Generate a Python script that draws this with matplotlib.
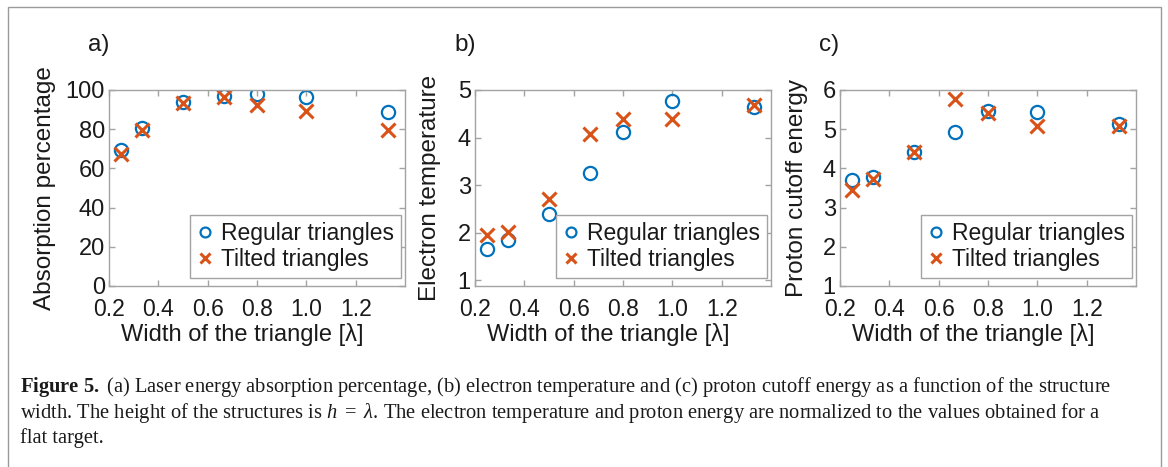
"""
Figure 5: absorption, electron temperature and proton cutoff energy vs triangle width
"""

import matplotlib
matplotlib.use("Agg")
import matplotlib.pyplot as plt
from matplotlib.patches import Rectangle

# Width of the triangle [lambda]
widths = [0.25, 0.333, 0.5, 0.667, 0.8, 1.0, 1.333]

# a) absorption percentage
absorption_regular = [69.3, 80.7, 94.0, 97.1, 98.0, 96.6, 88.9]
absorption_tilted = [67.3, 79.6, 93.2, 96.3, 92.3, 89.3, 79.6]

# b) electron temperature (normalized to flat target)
temperature_regular = [1.65, 1.84, 2.40, 3.25, 4.12, 4.76, 4.65]
temperature_tilted = [1.95, 2.02, 2.70, 4.07, 4.38, 4.40, 4.68]

# c) proton cutoff energy (normalized to flat target)
proton_regular = [3.71, 3.77, 4.42, 4.94, 5.46, 5.45, 5.14]
proton_tilted = [3.46, 3.73, 4.42, 5.77, 5.41, 5.08, 5.07]

panel_names = ["a)", "b)", "c)"]
y_labels = ["Absorption percentage", "Electron temperature", "Proton cutoff energy"]
x_label = "Width of the triangle [\u03bb]"
x_ticks = [0.2, 0.4, 0.6, 0.8, 1.0, 1.2]
x_tick_labels = ["0.2", "0.4", "0.6", "0.8", "1.0", "1.2"]
y_ticks = [[0, 20, 40, 60, 80, 100], [1, 2, 3, 4, 5], [1, 2, 3, 4, 5, 6]]
y_limits = [(0, 100), (0.88, 5), (1, 6)]
series_labels = ["Regular triangles", "Tilted triangles"]

caption_lines = [
    r"$\mathbf{Figure\ 5.}$ (a) Laser energy absorption percentage, (b) electron temperature and (c) proton cutoff energy as a function of the structure",
    r"width. The height of the structures is $h\ =\ \lambda$. The electron temperature and proton energy are normalized to the values obtained for a",
    "flat target.",
]

BLUE = "#0072BD"
ORANGE = "#D95319"
BOX_GRAY = "#a3a3a3"
TEXT = "#1a1a1a"

plt.rcParams["font.family"] = ["Liberation Sans", "DejaVu Sans"]
plt.rcParams["mathtext.fontset"] = "custom"
plt.rcParams["mathtext.rm"] = "Liberation Serif"
plt.rcParams["mathtext.it"] = "Liberation Serif:italic"
plt.rcParams["mathtext.bf"] = "Liberation Serif:bold"

W, H = 1168, 467
fig = plt.figure(figsize=(W / 100, H / 100), dpi=100)

# page frame around the figure
fig.patches.append(Rectangle((8 / W, -0.1), 1153 / W, 1.1 - 7 / H,
                             transform=fig.transFigure, fill=False,
                             edgecolor="#9a9a9a", linewidth=1.0))

axes_left = [109, 475, 840]
axes_top, axes_bottom, axes_width = 90, 286, 296
ylabel_x = [-0.216, -0.152, -0.145]
data = [
    (absorption_regular, absorption_tilted),
    (temperature_regular, temperature_tilted),
    (proton_regular, proton_tilted),
]

for i in range(3):
    ax = fig.add_axes([axes_left[i] / W, 1 - axes_bottom / H,
                       axes_width / W, (axes_bottom - axes_top) / H])
    regular, tilted = data[i]
    ax.plot(widths, regular, linestyle="none", marker="o", markersize=9.5,
            markerfacecolor="none", markeredgecolor=BLUE, markeredgewidth=1.6,
            label=series_labels[0])
    ax.plot(widths, tilted, linestyle="none", marker="x", markersize=10.5,
            markeredgecolor=ORANGE, markeredgewidth=2.2, label=series_labels[1])

    ax.set_xlim(0.2, 1.4)
    ax.set_ylim(*y_limits[i])
    ax.set_xticks(x_ticks)
    ax.set_xticklabels(x_tick_labels)
    ax.set_yticks(y_ticks[i])

    for spine in ax.spines.values():
        spine.set_color(BOX_GRAY)
        spine.set_linewidth(1.0)
    ax.tick_params(direction="in", length=4, width=1.0, color=BOX_GRAY,
                   top=True, right=True, labelcolor=TEXT)
    ax.tick_params(axis="x", labelsize=16.5, pad=9)
    ax.tick_params(axis="y", labelsize=17, pad=3)

    ax.set_xlabel(x_label, fontsize=17, color=TEXT)
    ax.xaxis.set_label_coords(0.45, -0.25)
    ax.xaxis.label.set_va("center")
    ax.set_ylabel(y_labels[i], fontsize=17.5, color=TEXT)
    ax.yaxis.label.set_va("center")
    ax.yaxis.set_label_coords(ylabel_x[i], 0.5)

    ax.text(-0.07, 1.23, panel_names[i], transform=ax.transAxes,
            fontsize=17.5, color=TEXT, ha="left", va="center")

    leg = ax.legend(loc="lower right", bbox_to_anchor=(0.985, 0.04),
                    borderaxespad=0, fontsize=16.5, markerscale=0.75,
                    handlelength=0.7, handletextpad=0.35, borderpad=0.3,
                    labelspacing=0.15, fancybox=False, framealpha=1)
    leg.get_frame().set_edgecolor(BOX_GRAY)
    leg.get_frame().set_linewidth(1.0)
    for t in leg.get_texts():
        t.set_color(TEXT)

# caption
caption_y = [387, 413, 438]
for line, y in zip(caption_lines, caption_y):
    fig.text(20 / W, 1 - y / H, line, fontsize=14.8, family="Liberation Serif",
             color=TEXT, ha="left", va="center")

fig.savefig("out.png", dpi=100)
